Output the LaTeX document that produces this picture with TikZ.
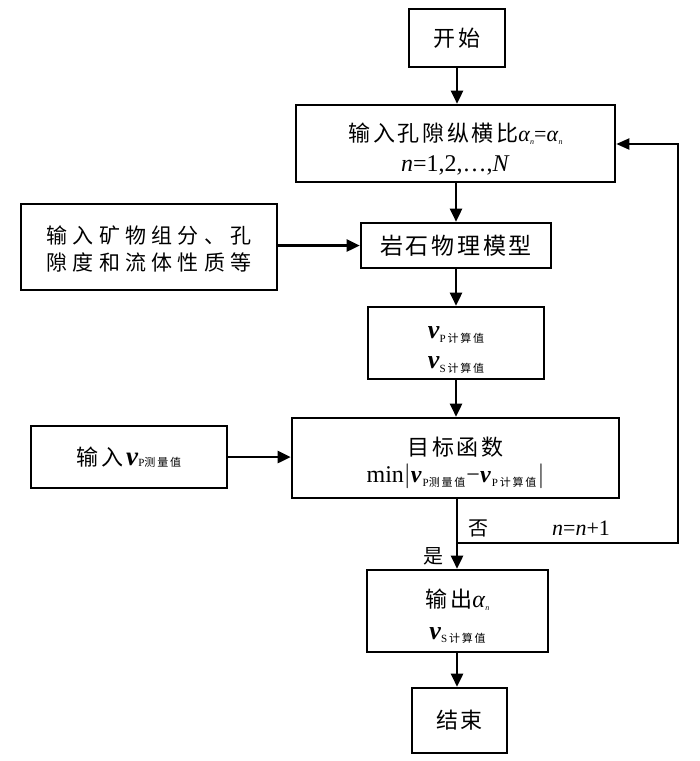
\documentclass[tikz,border=0pt]{standalone}
\usepackage{fontspec}
\setmainfont{Liberation Serif}
\newfontfamily\cjk{Noto Sans CJK SC}
\newfontfamily\cjka{Noto Sans CJK SC}[LetterSpace=12]
\newfontfamily\cjkb{Noto Sans CJK SC}[LetterSpace=25]
\usetikzlibrary{arrows.meta}
\newcommand{\fs}[1]{\fontsize{#1}{#1}\selectfont}
\newcommand{\vv}{\textbf{\textit{v}}}
\newcommand{\subz}[1]{\raisebox{-0.35ex}{\fs{11}#1}}
\newcommand{\vcal}[1]{\subz{#1{\cjk\,计\,算\,值}}}
\newcommand{\vmea}{\subz{P{\cjk 测\,量\,值}}}
\newcommand{\alsub}{\textit{α}\raisebox{-0.3ex}{\fs{8}\textit{n}}}
\newcommand{\up}[1]{\rule{0pt}{#1}}
\tikzset{
  box/.style={draw, line width=2.6pt, inner sep=0pt, align=center},
  arr/.style={line width=2.6pt, -{Triangle[length=13pt,width=12pt]}},
  arrthin/.style={line width=2pt, -{Triangle[length=13pt,width=11pt]}},
  lbl/.style={inner sep=0pt}
}
\begin{document}
\begin{tikzpicture}[x=1pt,y=-1pt]
\useasboundingbox[fill=white] (0,0) rectangle (700,761);
\node[box, minimum width=96pt, minimum height=58pt] (start) at (457,38) {\cjka\fs{22}开始};
\node[box, minimum width=319pt, minimum height=77pt, font=\fontsize{22}{30}\selectfont] (alpha) at (455.5,143.5)
  {\up{29pt}{\cjka 输入孔隙纵横比}\alsub=\alsub\\{\fs{24}\textit{n}=1,2,…,\textit{N}}};
\node[box, minimum width=190pt, minimum height=45pt] (rock) at (456,245.5) {\cjka\fs{23}岩石物理模型};
\node[box, minimum width=256pt, minimum height=86pt, font=\cjkb\fontsize{21}{27}\selectfont] (mineral) at (149,247)
  {\up{22pt}输入矿物组分、孔\\隙度和流体性质等};
\node[box, minimum width=176pt, minimum height=72pt, font=\fontsize{26}{30}\selectfont] (vcalc) at (456,343)
  {\up{26pt}\vv\vcal{P}\\\vv\vcal{S}};
\node[box, minimum width=327pt, minimum height=80pt, font=\fontsize{22}{27}\selectfont] (obj) at (455.5,458)
  {\up{29pt}{\cjka 目标函数}\\{\fs{24}min$|$\vv\kern1pt\vmea\kern1pt−\vv\kern1pt\vcal{P}\kern1pt$|$}};
\node[box, minimum width=196pt, minimum height=62pt] (vmeas) at (129,457)
  {{\cjka\fs{22}输入}{\fs{27}\vv}\vmea};
\node[box, minimum width=181pt, minimum height=82pt, font=\fontsize{22}{32}\selectfont] (out) at (457.5,611)
  {\up{29pt}{\cjka 输出}{\fs{24}\alsub}\\{\fs{26}\vv}\vcal{S}};
\node[box, minimum width=95pt, minimum height=65pt] (end) at (459.5,720.5) {\cjka\fs{22}结束};

\node[lbl] (no) at (478,528) {\cjk\fs{20}否};
\node[lbl] (inc) at (581,528) {\fs{22}\textit{n}=\textit{n}+1};
\node[lbl] (yes) at (433,556) {\cjk\fs{20}是};

\coordinate (split) at (457,543);
\coordinate (lc) at (678,144);

\draw[arr] (start.south) -- (start.south |- alpha.north);
\draw[arr] (rock.north |- alpha.south) -- (rock.north);
\draw[arr] (mineral.east |- rock.west) -- (rock.west);
\draw[arr] (vcalc.north |- rock.south) -- (vcalc.north);
\draw[arr] (vcalc.south) -- (vcalc.south |- obj.north);
\draw[arr] (vmeas.east) -- (vmeas.east -| obj.west);
\draw[arr] (split |- obj.south) -- (split |- out.north);
\draw[arr] (split |- out.south) -- (split |- end.north);
\draw[arrthin] (split) -| (lc) -- (alpha.east |- lc);
\end{tikzpicture}
\end{document}
